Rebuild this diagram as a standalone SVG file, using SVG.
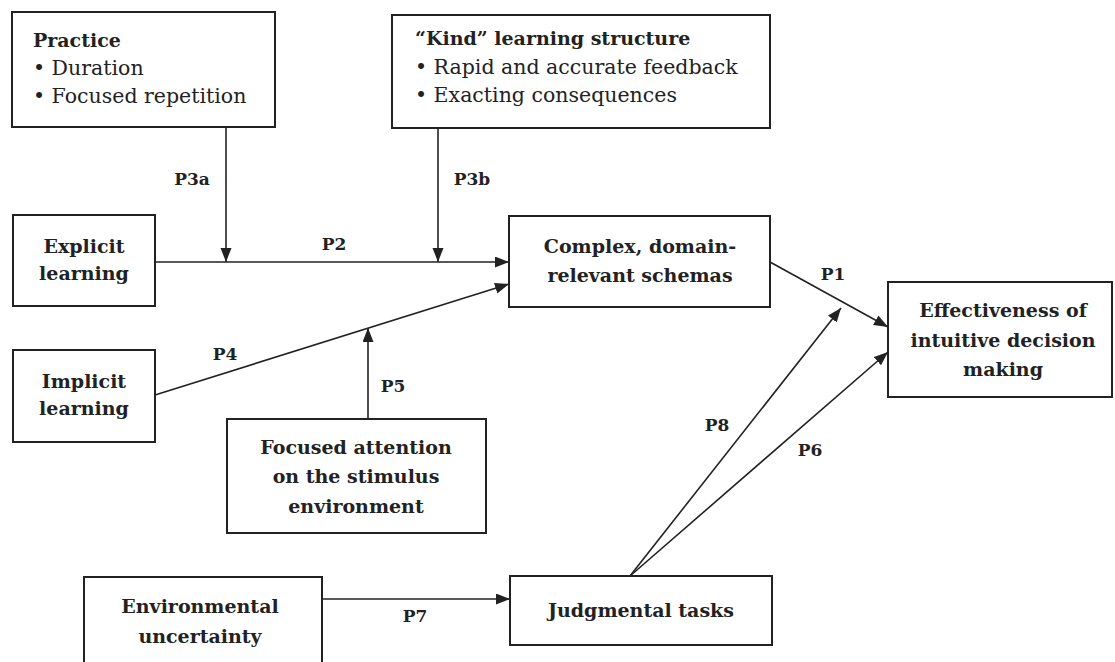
<svg xmlns="http://www.w3.org/2000/svg" width="1115" height="662" viewBox="0 0 1115 662">
<style>
.box{fill:#fff;stroke:#222;stroke-width:2}
.t{font-family:"DejaVu Serif","Liberation Serif",serif;font-size:19px;fill:#222;font-weight:bold}
.c{text-anchor:middle}
.n{font-weight:normal;font-size:20.5px}
.lbl{font-family:"DejaVu Serif","Liberation Serif",serif;font-size:17px;font-weight:bold;fill:#222;text-anchor:middle}
.ln{stroke:#222;stroke-width:1.6;fill:none;marker-end:url(#ah)}
</style>
<defs>
<marker id="ah" markerUnits="userSpaceOnUse" markerWidth="15" markerHeight="12" refX="14" refY="5.5" orient="auto">
<path d="M0,0 L14,5.5 L0,11 z" fill="#222"/>
</marker>
</defs>
<rect width="1115" height="662" fill="#fff"/>
<g id="connectors">
<line class="ln" x1="226" y1="127" x2="226" y2="262"/>
<line class="ln" x1="438" y1="128" x2="438" y2="262"/>
<line class="ln" x1="155" y1="262" x2="509" y2="262"/>
<line class="ln" x1="155" y1="395" x2="509" y2="284"/>
<line class="ln" x1="368" y1="419" x2="368" y2="328"/>
<line class="ln" x1="770" y1="262" x2="888" y2="327"/>
<line class="ln" x1="630" y1="576" x2="841" y2="308"/>
<line class="ln" x1="630" y1="576" x2="888" y2="352"/>
<line class="ln" x1="322" y1="599" x2="510" y2="599"/>
<text class="lbl" x="192" y="185">P3a</text>
<text class="lbl" x="472" y="185">P3b</text>
<text class="lbl" x="334" y="250">P2</text>
<text class="lbl" x="833" y="280">P1</text>
<text class="lbl" x="225" y="360">P4</text>
<text class="lbl" x="393" y="392">P5</text>
<text class="lbl" x="717" y="431">P8</text>
<text class="lbl" x="810" y="456">P6</text>
<text class="lbl" x="415" y="622">P7</text>
</g>
<g id="practice">
<rect class="box" x="12" y="12" width="263" height="115"/>
<text class="t" x="33" y="47">Practice</text>
<text class="t n" x="33" y="75">• Duration</text>
<text class="t n" x="33" y="103">• Focused repetition</text>
</g>
<g id="kind">
<rect class="box" x="392" y="15" width="378" height="113"/>
<text class="t" x="415" y="45">“Kind” learning structure</text>
<text class="t n" x="415" y="74">• Rapid and accurate feedback</text>
<text class="t n" x="415" y="102">• Exacting consequences</text>
</g>
<g id="explicit">
<rect class="box" x="13" y="215" width="142" height="91"/>
<text class="t c" x="84" y="253">Explicit</text>
<text class="t c" x="84" y="280">learning</text>
</g>
<g id="implicit">
<rect class="box" x="13" y="350" width="142" height="92"/>
<text class="t c" x="84" y="388">Implicit</text>
<text class="t c" x="84" y="415">learning</text>
</g>
<g id="complex">
<rect class="box" x="509" y="216" width="261" height="91"/>
<text class="t c" x="640" y="253">Complex, domain-</text>
<text class="t c" x="640" y="282">relevant schemas</text>
</g>
<g id="effectiveness">
<rect class="box" x="888" y="282" width="224" height="115"/>
<text class="t c" x="1003" y="317">Effectiveness of</text>
<text class="t c" x="1003" y="347">intuitive decision</text>
<text class="t c" x="1003" y="376">making</text>
</g>
<g id="focused">
<rect class="box" x="227" y="419" width="259" height="114"/>
<text class="t c" x="356" y="454">Focused attention</text>
<text class="t c" x="356" y="483">on the stimulus</text>
<text class="t c" x="356" y="513">environment</text>
</g>
<g id="environmental">
<rect class="box" x="84" y="577" width="238" height="100"/>
<text class="t c" x="200" y="613">Environmental</text>
<text class="t c" x="200" y="643">uncertainty</text>
</g>
<g id="judgmental">
<rect class="box" x="510" y="576" width="262" height="69"/>
<text class="t c" x="641" y="617">Judgmental tasks</text>
</g>
</svg>
